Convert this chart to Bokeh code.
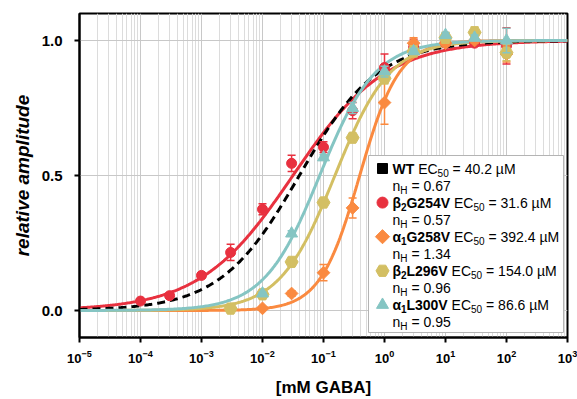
import numpy as np
from bokeh.plotting import figure
from bokeh.models import (Range1d, LinearScale, FixedTicker, LogTickFormatter,
                          PrintfTickFormatter, ColumnDataSource)
from bokeh.core.properties import value
from bokeh.embed import file_html
from bokeh.resources import INLINE

# ---------------- data ----------------
# concentrations in mM
conc_b2G254V = [1e-4, 3e-4, 1e-3, 3e-3, 1e-2, 3e-2, 0.1, 0.3, 1, 3, 10, 30, 100]
amp_b2G254V = [0.035, 0.055, 0.13, 0.215, 0.375, 0.545, 0.605, 0.74, 0.90, 0.975, 0.99, 0.99, 0.98]
err_b2G254V = [0.006, 0.01, 0.01, 0.03, 0.02, 0.03, 0.02, 0.03, 0.05, 0.03, 0.01, 0.01, 0.067]

conc_a1G258V = [1e-2, 3e-2, 0.1, 0.3, 1, 3, 10, 30, 100]
amp_a1G258V = [0.008, 0.063, 0.14, 0.38, 0.77, 0.99, 0.99, 1.0, 0.95]
err_a1G258V = [0.005, 0.01, 0.03, 0.037, 0.08, 0.02, 0.01, 0.01, 0.03]

conc_b2L296V = [3e-3, 1e-2, 3e-2, 0.1, 0.3, 1, 3, 10, 30, 100]
amp_b2L296V = [0.007, 0.06, 0.18, 0.40, 0.64, 0.86, 0.96, 1.01, 1.03, 0.955]
err_b2L296V = [0.005, 0.01, 0.01, 0.01, 0.01, 0.02, 0.02, 0.02, 0.02, 0.03]

conc_a1L300V = [1e-2, 3e-2, 0.1, 0.3, 1, 3, 10, 30, 100]
amp_a1L300V = [0.063, 0.285, 0.567, 0.75, 0.885, 0.96, 1.02, 1.01, 1.0]
err_a1L300V = [0.005, 0.01, 0.01, 0.02, 0.02, 0.01, 0.01, 0.01, 0.045]

# legend / fit parameters
name_base = ["WT", "β", "α", "β", "α"]
name_sub = ["", "2", "1", "2", "1"]
name_rest = ["", "G254V", "G258V", "L296V", "L300V"]
ec50_uM = [40.2, 31.6, 392.4, 154.0, 86.6]
n_hill = [0.67, 0.57, 1.34, 0.96, 0.95]

x_ticks = [1e-5, 1e-4, 1e-3, 1e-2, 1e-1, 1e0, 1e1, 1e2, 1e3]
y_ticks = [0.0, 0.5, 1.0]

colors = ["#000000", "#e8313f", "#fa8a40", "#d3bf63", "#85c5c3"]
markers = ["square", "circle", "square", "hex", "triangle"]
angles = [0, 0, np.pi / 4, 0, 0]

# ---------------- figure ----------------
W, H = 577, 399
ML, MR, MT, MB = 79, 10, 13, 62
FW, FH = W - ML - MR, H - MT - MB

p = figure(width=W, height=H, x_axis_type="log",
           x_range=Range1d(1e-5, 1e3), y_range=Range1d(-0.1, 1.1),
           output_backend="svg", toolbar_location=None,
           min_border_left=ML, min_border_right=MR,
           min_border_top=MT, min_border_bottom=MB)
p.background_fill_color = "white"
p.border_fill_color = "white"
p.outline_line_color = "black"
p.outline_line_width = 2

p.extra_x_ranges = {"leg": Range1d(0, FW)}
p.extra_y_ranges = {"leg": Range1d(FH, 0)}
p.extra_x_scales = {"leg": LinearScale()}
p.extra_y_scales = {"leg": LinearScale()}

minor = [m * 10.0 ** k for k in range(-5, 3) for m in range(2, 10)]
p.xaxis.ticker = FixedTicker(ticks=x_ticks, minor_ticks=minor)
p.xaxis.formatter = LogTickFormatter()
p.yaxis.ticker = FixedTicker(ticks=y_ticks)
p.yaxis.formatter = PrintfTickFormatter(format="%.1f")

for ax in (p.xaxis, p.yaxis):
    ax.axis_line_width = 2
    ax.axis_line_color = "black"
    ax.major_tick_line_width = 2
    ax.major_tick_out = 5
    ax.major_tick_in = 0
    ax.minor_tick_line_color = None
    ax.major_label_text_font = "Liberation Sans"
    ax.major_label_text_font_style = "bold"
    ax.major_label_text_color = "black"
    ax.axis_label_text_font = "Liberation Sans"
    ax.axis_label_text_color = "black"

p.xaxis.major_label_text_font_size = "13px"
p.xaxis.major_label_standoff = 7
p.xaxis.axis_label = "[mM GABA]"
p.xaxis.axis_label_text_font_size = "17px"
p.xaxis.axis_label_text_font_style = "bold"
p.xaxis.axis_label_standoff = 12

p.yaxis.major_label_text_font_size = "15px"
p.yaxis.major_label_standoff = 12
p.yaxis.axis_label = "relative amplitude"
p.yaxis.axis_label_text_font_size = "19px"
p.yaxis.axis_label_text_font_style = "bold italic"
p.yaxis.axis_label_standoff = 6

p.xgrid.grid_line_color = "#c8c8c8"
p.xgrid.minor_grid_line_color = "#dcdcdc"
p.ygrid.grid_line_color = "#c8c8c8"

# ---------------- fitted curves ----------------
xs = np.logspace(-5, 3, 400)
def hill(x, ec, n):
    return 1.0 / (1.0 + (ec / x) ** n)

order = [1, 0, 2, 3, 4]
for i in order:
    ys = hill(xs, ec50_uM[i] / 1000.0, n_hill[i])
    if i == 0:
        p.line(xs, ys, line_color="black", line_width=3, line_dash="8 5")
    else:
        p.line(xs, ys, line_color=colors[i], line_width=3)

# ---------------- data points ----------------
series = [
    (1, conc_b2G254V, amp_b2G254V, err_b2G254V, 10),
    (2, conc_a1G258V, amp_a1G258V, err_a1G258V, 9),
    (3, conc_b2L296V, amp_b2L296V, err_b2L296V, 13),
    (4, conc_a1L300V, amp_a1L300V, err_a1L300V, 12),
]
for i, c, a, e, sz in series:
    c = np.array(c); a = np.array(a); e = np.array(e)
    src = ColumnDataSource(dict(x=c, y=a, lo=a - e, hi=a + e))
    p.segment(x0="x", y0="lo", x1="x", y1="hi", source=src,
              line_color=colors[i], line_width=1.5)
    p.scatter(x="x", y="lo", source=src, marker="dash", size=8,
              line_color=colors[i], line_width=1.5)
    p.scatter(x="x", y="hi", source=src, marker="dash", size=8,
              line_color=colors[i], line_width=1.5)
    p.scatter(x="x", y="y", source=src, marker=markers[i], size=sz,
              angle=angles[i], fill_color=colors[i], line_color=colors[i])

# ---------------- legend ----------------
REG = {' ': 278, '=': 584, '.': 278, 'E': 667, 'C': 722, 'M': 833,
       'µ': 576, 'n': 556, 'H': 722}
BOLD = {' ': 278, 'W': 944, 'T': 611, 'G': 778, 'V': 667, 'L': 611,
        'β': 600, 'α': 600}

def tw(s, bold, size):
    tbl = BOLD if bold else REG
    return sum(tbl.get(ch, 556) for ch in s) / 1000.0 * size

BX1 = FW - 4
BX0 = BX1 - 195
BY0, BY1 = 142, 319
p.quad(left=[BX0], right=[BX1], top=[BY0], bottom=[BY1],
       x_range_name="leg", y_range_name="leg",
       fill_color="white", line_color="#b4b4b4", line_width=1)

MX, TX, ROW0, DROW, DLINE = BX0 + 14, BX0 + 24, 155, 34.1, 17
msizes = [10, 11, 10, 13, 12]
pieces = {"bold": [], "reg": [], "bsub": [], "rsub": []}
for i in range(5):
    y1 = ROW0 + DROW * i
    y2 = y1 + DLINE
    p.scatter(x=[MX], y=[y1], marker=markers[i], size=msizes[i], angle=angles[i],
              fill_color=colors[i], line_color=colors[i],
              x_range_name="leg", y_range_name="leg")
    line1 = [(name_base[i], True, False), (name_sub[i], True, True),
             (name_rest[i], True, False), (" EC", False, False),
             ("50", False, True), (" = %.1f µM" % ec50_uM[i], False, False)]
    line2 = [("n", False, False), ("H", False, True),
             (" = %.2f" % n_hill[i], False, False)]
    for parts, yy in ((line1, y1), (line2, y2)):
        x = TX
        for txt, bold, sub in parts:
            if not txt:
                continue
            size = 10 if sub else 14
            while txt.startswith(" "):
                x += tw(" ", bold, size)
                txt = txt[1:]
            key = {(True, False): "bold", (False, False): "reg",
                   (True, True): "bsub", (False, True): "rsub"}[(bold, sub)]
            pieces[key].append((x, yy + (4.5 if sub else 0), txt))
            x += tw(txt, bold, size)

for key, style, size in (("bold", "bold", "14px"), ("reg", "normal", "14px"),
                         ("bsub", "bold", "10px"), ("rsub", "normal", "10px")):
    lst = pieces[key]
    src = ColumnDataSource(dict(x=[q[0] for q in lst], y=[q[1] for q in lst],
                                t=[q[2] for q in lst]))
    p.text(x="x", y="y", text="t", source=src,
           x_range_name="leg", y_range_name="leg",
           text_font=value("Liberation Sans"), text_font_size=value(size),
           text_font_style=style, text_baseline="middle", text_align="left",
           text_color="black")

open("out.html", "w").write(file_html(p, INLINE))
